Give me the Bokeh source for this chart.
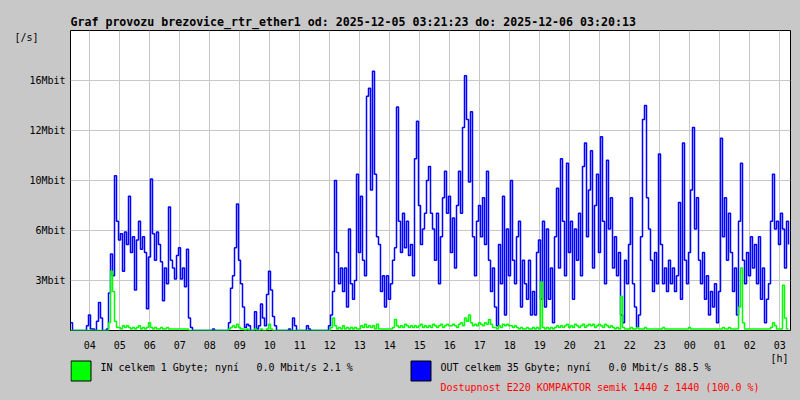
from bokeh.plotting import figure
from bokeh.layouts import column
from bokeh.models import Range1d, FixedTicker, LinearAxis
from bokeh.core.properties import value
from bokeh.embed import file_html
from bokeh.resources import INLINE

# ---------------- data ----------------
title_text = "Graf provozu brezovice_rtr_ether1 od: 2025-12-05 03:21:23 do: 2025-12-06 03:20:13"
start_h = 3 + 21 / 60 + 23 / 3600          # 2025-12-05 03:21:23 (hours since 05 00:00)
end_h = 27 + 20 / 60 + 13 / 3600           # 2025-12-06 03:20:13
step_min = 4                               # sample spacing in minutes

hour_ticks = list(range(4, 28))
hour_labels = ["04", "05", "06", "07", "08", "09", "10", "11", "12", "13", "14", "15",
               "16", "17", "18", "19", "20", "21", "22", "23", "00", "01", "02", "03"]
y_ticks = [3.2, 6.4, 9.6, 12.8, 16.0]
y_labels = ["3Mbit", "6Mbit", "10Mbit", "12Mbit", "16Mbit"]
unit_tick = 18.75
unit_label = "[/s]"
hour_unit = "[h]"

# OUT traffic [Mbit/s]
out_mbit = [
    0.5, 0, 0, 0, 0, 0, 0, 0, 0.3, 1.0,
    0.1, 0.1, 0, 0.6, 1.8, 0.8, 0, 0, 0.1, 2.4,
    4.9, 3.5, 9.9, 7.0, 5.8, 6.2, 3.8, 6.3, 5.5, 8.6,
    5.0, 6.0, 2.6, 5.8, 7.0, 5.2, 6.0, 5.0, 1.4, 4.7,
    9.7, 6.2, 4.5, 6.3, 5.5, 4.4, 1.9, 4.0, 3.0, 7.9,
    4.5, 4.0, 3.3, 4.8, 5.3, 3.3, 4.0, 2.8, 5.2, 0.8,
    0.2, 0, 0, 0, 0, 0, 0, 0, 0, 0,
    0, 0.1, 0, 0, 0, 0, 0, 0, 0, 0.5,
    2.7, 3.5, 5.3, 8.1, 4.5, 3.0, 1.5, 0.2, 0.4, 0.3,
    0, 0, 1.2, 0.1, 0.3, 1.7, 0.8, 0.3, 2.3, 3.8,
    2.6, 0.9, 0.3, 0, 0, 0, 0, 0, 0, 0.1,
    0, 0.8, 0.3, 0, 0, 0, 0, 0, 0.3, 0.1,
    0, 0, 0, 0, 0, 0, 0, 0, 0, 0.3,
    1.0, 2.5, 9.6, 5.0, 3.0, 4.0, 2.5, 4.0, 1.5, 6.5,
    3.0, 2.0, 3.2, 10.0, 5.0, 8.6, 4.5, 3.5, 15.0, 15.5,
    9.0, 16.6, 10.0, 6.0, 5.5, 2.5, 3.5, 1.5, 3.5, 2.0,
    3.0, 4.5, 5.3, 14.3, 7.0, 5.0, 7.5, 5.3, 7.0, 4.8,
    5.5, 3.5, 11.0, 13.4, 8.0, 5.5, 6.5, 7.5, 9.6, 10.5,
    7.5, 6.5, 4.5, 7.5, 3.0, 6.0, 8.5, 10.2, 7.5, 8.6,
    5.0, 7.2, 4.0, 8.0, 10.2, 7.5, 13.0, 16.3, 13.5, 9.5,
    14.0, 6.0, 3.5, 7.0, 8.0, 6.0, 8.5, 5.5, 10.2, 4.5,
    2.5, 4.0, 1.5, 0.3, 5.5, 3.0, 8.6, 1.0, 6.5, 3.5,
    9.6, 4.5, 3.0, 6.0, 7.0, 1.5, 4.5, 3.0, 2.0, 4.5,
    1.0, 2.5, 1.0, 5.0, 5.8, 2.0, 7.0, 1.5, 6.5, 2.0,
    4.0, 0.5, 6.0, 9.1, 4.0, 11.0, 7.0, 3.5, 10.7, 5.0,
    7.0, 2.0, 6.5, 4.5, 7.5, 3.5, 10.5, 12.0, 6.0, 9.0,
    11.5, 4.0, 8.0, 10.0, 5.0, 12.4, 7.0, 3.0, 10.9, 6.5,
    8.5, 4.0, 6.0, 3.5, 5.0, 1.0, 0.5, 4.5, 3.0, 5.5,
    8.5, 3.0, 1.5, 0.2, 1.0, 6.0, 13.5, 14.4, 8.5, 6.5,
    4.5, 2.5, 5.0, 3.0, 11.3, 5.5, 3.0, 4.0, 2.5, 4.5,
    3.0, 4.0, 2.5, 3.5, 8.2, 2.0, 12.0, 4.5, 3.0, 5.0,
    9.0, 13.0, 6.5, 8.5, 4.5, 3.0, 5.0, 2.0, 3.5, 1.0,
    2.5, 1.5, 3.0, 0.5, 2.5, 12.3, 6.0, 8.5, 4.5, 7.5,
    5.0, 2.5, 4.0, 1.0, 7.0, 10.7, 4.5, 3.0, 5.0, 3.5,
    6.0, 4.0, 5.5, 3.0, 6.0, 2.0, 4.0, 0.5, 2.0, 3.0,
    7.0, 10.0, 6.5, 7.0, 5.5, 7.5, 6.5, 4.0, 7.0, 5.5,
]

# IN traffic [Mbit/s]
in_mbit = [
    0, 0, 0, 0, 0, 0, 0, 0, 0, 0,
    0, 0, 0, 0, 0, 0, 0, 0, 0, 0.5,
    3.8, 2.5, 0.6, 0.2, 0.2, 0.1, 0.3, 0.2, 0.3, 0.2,
    0.1, 0.2, 0.1, 0.2, 0.3, 0.1, 0.2, 0.1, 0.2, 0.5,
    0.2, 0.1, 0.2, 0.1, 0.1, 0.2, 0.1, 0.1, 0.2, 0.1,
    0.1, 0.1, 0.1, 0.1, 0.1, 0.1, 0.1, 0.1, 0.1, 0,
    0, 0, 0, 0, 0, 0, 0, 0, 0, 0,
    0, 0, 0, 0, 0, 0, 0, 0, 0, 0.1,
    0.2, 0.3, 0.2, 0.4, 0.2, 0.1, 0.1, 0, 0.1, 0,
    0, 0, 0.1, 0, 0, 0.1, 0, 0, 0.1, 0.4,
    0.1, 0, 0, 0, 0, 0, 0, 0, 0, 0,
    0, 0, 0, 0, 0, 0, 0, 0, 0, 0,
    0, 0, 0, 0, 0, 0, 0, 0, 0, 0,
    0.2, 0.8, 0.3, 0.1, 0.2, 0.1, 0.3, 0.1, 0.2, 0.1,
    0.2, 0.1, 0.2, 0.1, 0.1, 0.3, 0.2, 0.4, 0.2, 0.3,
    0.2, 0.3, 0.1, 0.4, 0.1, 0.1, 0.1, 0.1, 0.1, 0.1,
    0.1, 0.2, 0.7, 0.3, 0.2, 0.3, 0.2, 0.4, 0.3, 0.2,
    0.3, 0.2, 0.3, 0.2, 0.3, 0.4, 0.2, 0.3, 0.2, 0.3,
    0.2, 0.4, 0.3, 0.2, 0.3, 0.4, 0.2, 0.3, 0.4, 0.3,
    0.3, 0.4, 0.3, 0.2, 0.4, 0.5, 0.3, 0.8, 0.6, 1.0,
    0.5, 0.3, 0.4, 0.3, 0.5, 0.4, 0.3, 0.5, 0.4, 0.7,
    0.4, 0.2, 0.2, 0.1, 0.3, 0.2, 0.4, 0.3, 0.4, 0.3,
    0.3, 0.2, 0.3, 0.2, 0.1, 0.2, 0.1, 0.1, 0.2, 0.1,
    0.1, 0.2, 0.1, 0.2, 0.1, 3.1, 0.2, 0.1, 0.2, 0.1,
    0.2, 0.1, 0.2, 0.3, 0.2, 0.3, 0.2, 0.3, 0.4, 0.2,
    0.3, 0.2, 0.4, 0.3, 0.2, 0.3, 0.4, 0.2, 0.3, 0.4,
    0.3, 0.4, 0.2, 0.3, 0.4, 0.3, 0.2, 0.4, 0.3, 0.2,
    0.3, 0.2, 0.1, 0.2, 0.1, 2.2, 0.2, 0.1, 0.1, 0.1,
    0.2, 0.1, 0.1, 0.2, 0.1, 0.1, 0.1, 0.2, 0.1, 0.1,
    0.1, 0.1, 0.1, 0.1, 0.1, 0.1, 0.2, 0.1, 0.1, 0.1,
    0.1, 0.1, 0.1, 0.1, 0.1, 0.1, 0.1, 0.1, 0.1, 0.2,
    0.1, 0.1, 0.1, 0.1, 0.1, 0.1, 0.1, 0.1, 0.1, 0.1,
    0.1, 0.1, 0.1, 0.1, 0.1, 0.1, 0.2, 0.1, 0.1, 0.2,
    0.1, 0.1, 0.1, 0.1, 1.5, 4.0, 0.5, 0.1, 0.1, 0.1,
    0.1, 0.1, 0.1, 0.1, 0.1, 0.1, 0.1, 0.1, 0.1, 0.1,
    0.2, 0.5, 0.3, 0.1, 0.1, 0.1, 2.9, 0.8, 0.1, 0.1,
]

in_legend = "IN celkem 1 Gbyte; nyní"
in_now = "0.0 Mbit/s 2.1 %"
out_legend = "OUT celkem 35 Gbyte; nyní"
out_now = "0.0 Mbit/s 88.5 %"
avail_text = "Dostupnost E220 KOMPAKTOR semik 1440 z 1440 (100.0 %)"
in_color = "#00ff00"
out_color = "#0000ff"

times = [start_h + i * step_min / 60 for i in range(len(out_mbit))]

# ---------------- main figure ----------------
BG = "#c8c8c8"
MONO = "DejaVu Sans Mono"
Y_MAX = 19.2

p = figure(width=800, frame_width=720, frame_height=300, output_backend="svg",
           toolbar_location=None, title=title_text,
           x_range=Range1d(start_h, start_h + 24), y_range=Range1d(0, Y_MAX),
           min_border_left=70, min_border_right=10, min_border_top=30, min_border_bottom=22)
p.background_fill_color = "white"
p.border_fill_color = BG
p.outline_line_color = "black"
p.outline_line_width = 1

p.title.text_font = MONO
p.title.text_font_size = "11.6px"
p.title.text_font_style = "bold"
p.title.text_color = "black"
p.title.align = "left"
p.title.offset = 0
p.title.standoff = 4

p.xaxis.ticker = FixedTicker(ticks=hour_ticks)
p.xaxis.major_label_overrides = {t: l for t, l in zip(hour_ticks, hour_labels)}
p.yaxis.ticker = FixedTicker(ticks=y_ticks)
p.yaxis.major_label_overrides = {t: l for t, l in zip(y_ticks, y_labels)}


def style_axis(ax):
    ax.axis_line_color = None
    ax.major_tick_line_color = None
    ax.minor_tick_line_color = None
    ax.major_tick_in = 0
    ax.major_tick_out = 0
    ax.major_label_text_font = MONO
    ax.major_label_text_font_size = "10px"
    ax.major_label_text_color = "black"


for ax in list(p.xaxis) + list(p.yaxis):
    style_axis(ax)
p.yaxis.major_label_standoff = 5
p.xaxis.major_label_standoff = 10

# unit label "[/s]" as an outer left axis with a single tick
unit_axis = LinearAxis(ticker=FixedTicker(ticks=[unit_tick]),
                       major_label_overrides={unit_tick: unit_label})
style_axis(unit_axis)
unit_axis.major_label_standoff = -12
p.add_layout(unit_axis, "left")

p.xgrid.grid_line_color = BG
p.ygrid.grid_line_color = BG
p.xgrid.grid_line_width = 1
p.ygrid.grid_line_width = 1

p.step(times, out_mbit, mode="after", line_color=out_color, line_width=1.5)
p.step(times, in_mbit, mode="after", line_color=in_color, line_width=1.5)

# ---------------- footer (legend) ----------------
# the column aligns this frame with the main frame (window x 70..790),
# so the footer range is expressed in window pixels
FOOT_TOP = 352
f = figure(width=800, frame_width=720, height=400 - FOOT_TOP, output_backend="svg",
           toolbar_location=None,
           x_range=Range1d(70, 790), y_range=Range1d(400, FOOT_TOP),
           x_axis_location=None, y_axis_location=None,
           min_border=0, min_border_left=70, min_border_right=10,
           min_border_top=0, min_border_bottom=0)
f.grid.visible = False
f.outline_line_color = None
f.background_fill_color = BG
f.border_fill_color = BG

f.quad(left=[70.5, 410.5], right=[90.5, 430.5], top=[360.5, 360.5], bottom=[380.5, 380.5],
       fill_color=[in_color, out_color], line_color="black", line_width=1)
f.text(x=[770], y=[FOOT_TOP], text=[hour_unit], text_font=value(MONO),
       text_font_size=value("10px"), text_baseline="top", text_align="left",
       text_color="black")
f.text(x=[100, 256, 440, 608], y=[367, 367, 367, 367],
       text=[in_legend, in_now, out_legend, out_now], text_font=value(MONO),
       text_font_size=value("10px"), text_baseline="middle", text_align="left",
       text_color="black")
f.text(x=[440], y=[387], text=[avail_text], text_font=value(MONO),
       text_font_size=value("10px"), text_baseline="middle", text_align="left",
       text_color="#ff0000")

layout = column(p, f, spacing=0, styles={"background-color": BG})
open("out.html", "w").write(file_html(layout, INLINE))
